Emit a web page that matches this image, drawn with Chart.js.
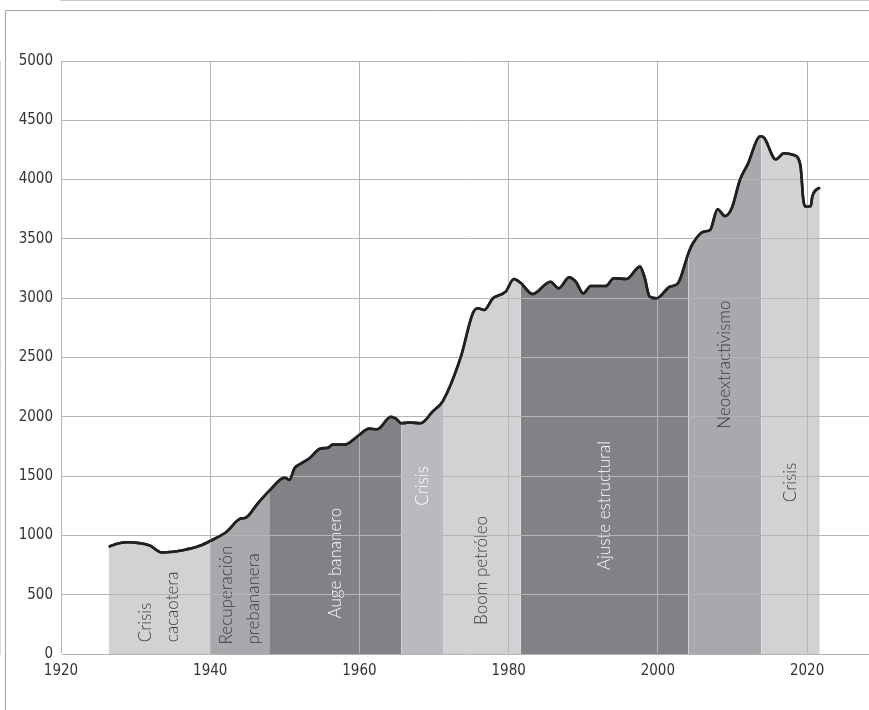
<!DOCTYPE html>
<html>
<head>
<meta charset="utf-8">
<script src="https://cdn.jsdelivr.net/npm/chart.js@4.4.1/dist/chart.umd.min.js"></script>
<style>
  html, body { margin: 0; padding: 0; background: #ffffff; overflow: hidden; }
  canvas { display: block; }
</style>
</head>
<body>
<canvas id="c" width="869" height="710"></canvas>
<script>
// ---- data ----
const years = [1926.4, 1927.5, 1929, 1930.5, 1931.9, 1933.5, 1935, 1936.5, 1938.5, 1940.0,
  1942.2, 1944.0, 1944.8, 1946.2, 1947.9, 1950.0, 1950.6, 1951.3, 1952.0, 1953.3,
  1954.7, 1955.8, 1956.4, 1958.0, 1959.8, 1961.3, 1962.4, 1964.2, 1964.9, 1965.6,
  1966.7, 1968.2, 1969.8, 1971.2, 1973.6, 1975.2, 1975.9, 1976.7, 1977.9, 1979.6,
  1980.7, 1981.6, 1983.2, 1985.6, 1986.7, 1988.1, 1989.0, 1990.0, 1991.0, 1993.0,
  1994.1, 1995.8, 1997.6, 1998.2, 1998.9, 1999.8, 2001.6, 2002.7, 2004.1, 2004.7,
  2006.1, 2007.0, 2008.0, 2009.0, 2009.9, 2011.0, 2012.1, 2013.6, 2013.9, 2014.3,
  2015.8, 2016.9, 2018.2, 2019.1, 2019.5, 2019.8, 2020.5, 2020.7, 2021.7];
const values = [905, 930, 942, 935, 915, 856, 862, 877, 910, 953,
  1031, 1140, 1150, 1256, 1375, 1487, 1467, 1566, 1600, 1650,
  1730, 1740, 1765, 1765, 1838, 1900, 1895, 2000, 1985, 1945,
  1952, 1946, 2043, 2135, 2507, 2873, 2915, 2900, 2999, 3055,
  3162, 3130, 3035, 3139, 3083, 3176, 3139, 3041, 3103, 3103,
  3168, 3162, 3266, 3181, 3013, 2999, 3097, 3126, 3380, 3463,
  3561, 3575, 3750, 3693, 3758, 3997, 4137, 4362, 4365, 4348,
  4171, 4222, 4207, 4123, 3828, 3772, 3777, 3856, 3935];

const eraNames  = [['Crisis', 'cacaotera'], ['Recuperación', 'prebananera'], ['Auge bananero'], ['Crisis'],
                   ['Boom petróleo'], ['Ajuste estructural'], ['Neoextractivismo'], ['Crisis']];
const eraStart  = [1926.4, 1940.0, 1947.9, 1965.6, 1971.2, 1981.6, 2004.1, 2013.9];
const eraEnd    = [1940.0, 1947.9, 1965.6, 1971.2, 1981.6, 2004.1, 2013.9, 2021.7];
const eraColors = ['#d1d2d4', '#a7a9ac', '#808285', '#b9babd', '#d1d2d4', '#808285', '#a7a9ac', '#d1d2d4'];
const eraText   = ['#3a3a3a', '#3a3a3a', '#ffffff', '#ffffff', '#3a3a3a', '#ffffff', '#3a3a3a', '#3a3a3a'];
const eraLabelBase = [100, 80, 300, 1250, 245, 708, 1900, 1280]; // where the rotated text starts (y units)

const xTicks = [1920, 1940, 1960, 1980, 2000, 2020];
const yTicks = [0, 500, 1000, 1500, 2000, 2500, 3000, 3500, 4000, 4500, 5000];

// ---- helpers ----
function eraColorAt(x) {
  for (let i = 0; i < eraStart.length; i++) {
    if (x >= eraStart[i] - 1e-6 && x <= eraEnd[i] + 1e-6) return eraColors[i];
  }
  return eraColors[eraColors.length - 1];
}

const points = years.map((y, i) => ({ x: y, y: values[i] }));

const framePlugin = {
  id: 'frame',
  beforeDraw(chart) {
    const ctx = chart.ctx;
    ctx.save();
    ctx.fillStyle = '#ffffff';
    ctx.fillRect(0, 0, chart.width, chart.height);
    ctx.strokeStyle = '#a3a3a3';
    ctx.lineWidth = 1;
    ctx.beginPath();
    ctx.moveTo(5.5, chart.height);
    ctx.lineTo(5.5, 10.5);
    ctx.lineTo(chart.width, 10.5);
    ctx.stroke();
    ctx.restore();
  }
};

const eraLabelPlugin = {
  id: 'eraLabels',
  afterDatasetsDraw(chart) {
    const { ctx, scales: { x, y } } = chart;
    ctx.save();
    ctx.font = '300 17px Lato, "Open Sans", sans-serif';
    ctx.textAlign = 'left';
    ctx.textBaseline = 'middle';
    eraNames.forEach((lines, i) => {
      const cx = x.getPixelForValue((eraStart[i] + eraEnd[i]) / 2);
      const by = y.getPixelForValue(eraLabelBase[i]);
      ctx.save();
      ctx.translate(cx, by);
      ctx.rotate(-Math.PI / 2);
      ctx.fillStyle = eraText[i];
      const lh = 27;
      lines.forEach((t, k) => {
        ctx.fillText(t, 0, (k - (lines.length - 1) / 2) * lh);
      });
      ctx.restore();
    });
    ctx.restore();
  }
};

const lineOnTopPlugin = {
  id: 'lineOnTop',
  afterDraw(chart) {
    const meta = chart.getDatasetMeta(0);
    const ctx = chart.ctx;
    ctx.save();
    meta.controller.draw();
    ctx.restore();
  }
};

const tickFont = { family: '"Liberation Sans Narrow", "DejaVu Sans Condensed", "Liberation Sans", sans-serif', size: 15 };

new Chart(document.getElementById('c'), {
  type: 'line',
  data: {
    datasets: [{
      data: points,
      borderColor: '#231f20',
      borderWidth: 2.6,
      pointRadius: 0,
      cubicInterpolationMode: 'monotone',
      fill: 'origin',
      backgroundColor: '#d1d2d4',
      segment: {
        backgroundColor: c => eraColorAt((c.p0.parsed.x + c.p1.parsed.x) / 2)
      }
    }]
  },
  options: {
    responsive: false,
    animation: false,
    layout: { padding: { left: 0, right: 0, top: 61, bottom: 0 } },
    plugins: { legend: { display: false }, tooltip: { enabled: false } },
    scales: {
      x: {
        type: 'linear',
        min: 1920,
        max: 2028.3,
        afterBuildTicks: s => { s.ticks = xTicks.map(v => ({ value: v })); },
        afterFit: s => { s.height = 56; },
        grid: { color: '#b5b5b5', lineWidth: 1, drawTicks: false, z: 1 },
        border: { color: '#c9c9c9', width: 2 },
        ticks: { color: '#333333', font: tickFont, padding: 8, maxRotation: 0,
                 callback: v => String(v) }
      },
      y: {
        min: 0,
        max: 5000,
        afterBuildTicks: s => { s.ticks = yTicks.map(v => ({ value: v })); },
        afterFit: s => { s.width = 61; },
        grid: { color: '#b5b5b5', lineWidth: 1, drawTicks: false, z: 1 },
        border: { color: '#b5b5b5', width: 1 },
        ticks: { color: '#333333', font: tickFont, padding: 8,
                 callback: v => String(v) }
      }
    }
  },
  plugins: [framePlugin, eraLabelPlugin, lineOnTopPlugin]
});
</script>
</body>
</html>
